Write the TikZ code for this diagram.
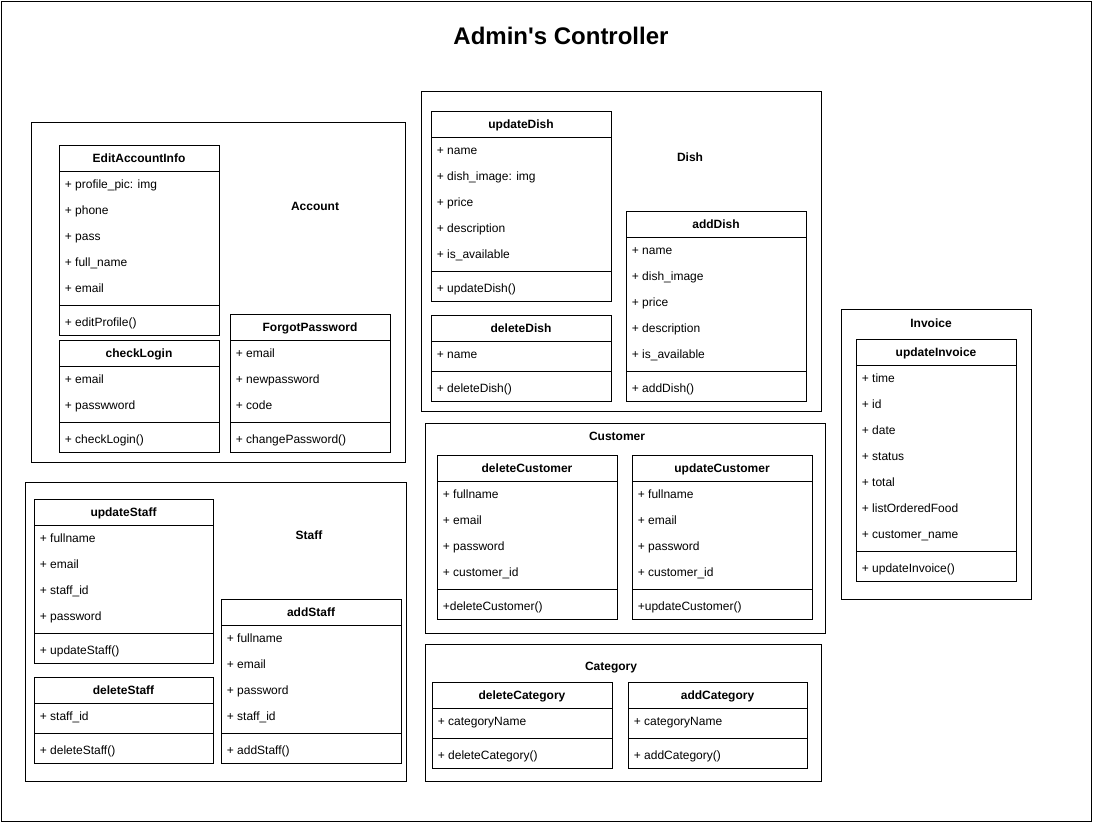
\documentclass[tikz,border=0pt]{standalone}
\usepackage{fontspec}
\setmainfont{Liberation Sans}
\usepackage{tikz}
\usetikzlibrary{positioning}

% one class: #1 name, #2 left, #3 top, #4 width, #5 number of attributes, #6 title, #7 attributes, #8 method
\newcommand{\classbox}[8]{%
  \pgfmathsetmacro{\boxh}{60+26*#5}
  \node[classframe, minimum width=#4, minimum height=\boxh] (#1) at (#2,#3) {};
  \node[classtitle] (#1-title) at ({#2+#4/2},{#3+13}) {#6};
  \draw (#2,{#3+26}) -- ++(#4,0);
  \foreach \a [count=\i] in {#7}
    \node[member] (#1-a\i) at ({#2+2},{#3+13+26*\i}) {\a};
  \draw (#2,{#3+30+26*#5}) -- ++(#4,0);
  \node[member] (#1-m) at ({#2+2},{#3+47+26*#5}) {#8};
}

\begin{document}
\begin{tikzpicture}[x=1pt,y=-1pt,line width=1pt,
    frame/.style={draw, anchor=north west, inner sep=0pt},
    classframe/.style={draw, anchor=north west, inner sep=0pt, fill=white},
    classtitle/.style={font=\fontsize{12}{14}\selectfont\bfseries, text height=10.5pt, text depth=2pt},
    grouplabel/.style={font=\fontsize{12}{14}\selectfont\bfseries, text height=10.5pt, text depth=2pt},
    member/.style={anchor=west, font=\fontsize{12}{14}\selectfont, text height=10.5pt, text depth=2pt}]
  \useasboundingbox (0,0) rectangle (1094,823);
  \draw[fill=white] (1,1) rectangle (1091,821);
  \node[font=\fontsize{24}{28}\selectfont\bfseries] (title) at (561,36) {Admin\textquotesingle s Controller};

  %Groups
  \node[frame, minimum width=374, minimum height=340] (account) at (31,122) {};
  \node[grouplabel] (accountlabel) at (315,206) {Account};
  \node[frame, minimum width=400, minimum height=320] (dish) at (421,91) {};
  \node[grouplabel] (dishlabel) at (690,157) {Dish};
  \node[frame, minimum width=190, minimum height=290] (invoice) at (841,309) {};
  \node[grouplabel] (invoicelabel) at (931,323) {Invoice};
  \node[frame, minimum width=400, minimum height=210] (customer) at (425,423) {};
  \node[grouplabel] (customerlabel) at (617,436) {Customer};
  \node[frame, minimum width=396, minimum height=137] (category) at (425,644) {};
  \node[grouplabel] (categorylabel) at (611,666) {Category};
  \node[frame, minimum width=381, minimum height=299] (staff) at (25,482) {};
  \node[grouplabel] (stafflabel) at (309,535) {Staff};

  %Account
  \classbox{editaccount}{59}{145}{160}{5}{EditAccountInfo}{+ profile\_pic: img, + phone, + pass, + full\_name, + email}{+ editProfile()}
  \classbox{checklogin}{59}{340}{160}{2}{checkLogin}{+ email, + passwword}{+ checkLogin()}
  \classbox{forgotpass}{230}{314}{160}{3}{ForgotPassword}{+ email, + newpassword, + code}{+ changePassword()}

  %Dish
  \classbox{updatedish}{431}{111}{180}{5}{updateDish}{+ name, + dish\_image: img, + price, + description, + is\_available}{+ updateDish()}
  \classbox{deletedish}{431}{315}{180}{1}{deleteDish}{+ name}{+ deleteDish()}
  \classbox{adddish}{626}{211}{180}{5}{addDish}{+ name, + dish\_image, + price, + description, + is\_available}{+ addDish()}

  %Invoice
  \classbox{updateinvoice}{856}{339}{160}{7}{updateInvoice}{+ time, + id, + date, + status, + total, + listOrderedFood, + customer\_name}{+ updateInvoice()}

  %Customer
  \classbox{deletecustomer}{437}{455}{180}{4}{deleteCustomer}{+ fullname, + email, + password, + customer\_id}{+deleteCustomer()}
  \classbox{updatecustomer}{632}{455}{180}{4}{updateCustomer}{+ fullname, + email, + password, + customer\_id}{+updateCustomer()}

  %Category
  \classbox{deletecategory}{432}{682}{180}{1}{deleteCategory}{+ categoryName}{+ deleteCategory()}
  \classbox{addcategory}{628}{682}{179}{1}{addCategory}{+ categoryName}{+ addCategory()}

  %Staff
  \classbox{updatestaff}{34}{499}{179}{4}{updateStaff}{+ fullname, + email, + staff\_id, + password}{+ updateStaff()}
  \classbox{deletestaff}{34}{677}{179}{1}{deleteStaff}{+ staff\_id}{+ deleteStaff()}
  \classbox{addstaff}{221}{599}{180}{4}{addStaff}{+ fullname, + email, + password, + staff\_id}{+ addStaff()}
\end{tikzpicture}
\end{document}
